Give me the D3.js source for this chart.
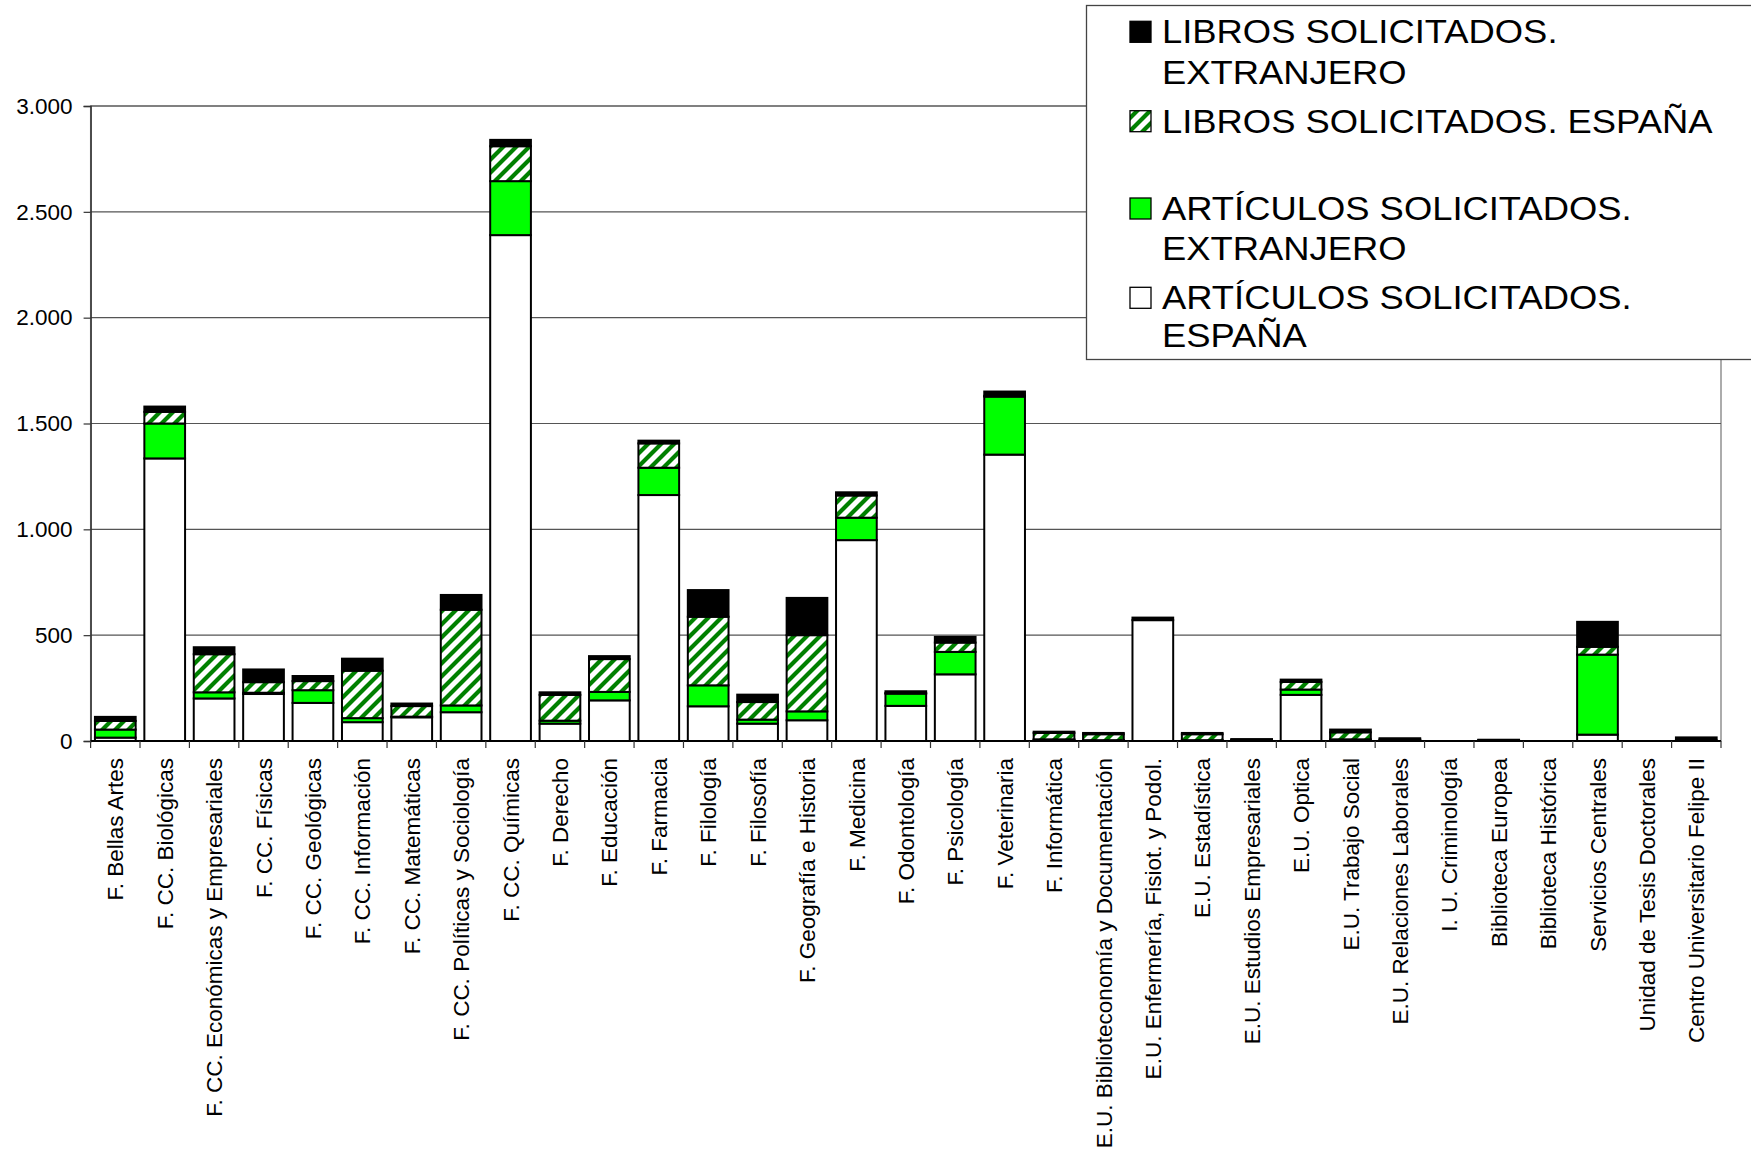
<!DOCTYPE html>
<html>
<head>
<meta charset="utf-8">
<script src="https://cdn.jsdelivr.net/npm/d3@7"></script>
<style>
  html, body { margin: 0; padding: 0; background: #fff; }
  svg { display: block; font-family: "Liberation Sans", Arial, sans-serif; }
</style>
</head>
<body>
<svg id="chart" width="1751" height="1155"></svg>
<script>
// ---------- DATA ----------
const categories = [
  "F. Bellas Artes", "F. CC. Biológicas", "F. CC. Económicas y Empresariales", "F. CC. Físicas",
  "F. CC. Geológicas", "F. CC. Información", "F. CC. Matemáticas", "F. CC. Políticas y Sociología",
  "F. CC. Químicas", "F. Derecho", "F. Educación", "F. Farmacia", "F. Filología", "F. Filosofía",
  "F. Geografía e Historia", "F. Medicina", "F. Odontología", "F. Psicología", "F. Veterinaria",
  "F. Informática", "E.U. Biblioteconomía y Documentación", "E.U. Enfermería, Fisiot. y Podol.",
  "E.U. Estadística", "E.U. Estudios Empresariales", "E.U. Optica", "E.U. Trabajo Social",
  "E.U. Relaciones Laborales", "I. U. Criminología", "Biblioteca Europea", "Biblioteca Histórica",
  "Servicios Centrales", "Unidad de Tesis Doctorales", "Centro Universitario Felipe II"
];
// ARTÍCULOS SOLICITADOS. ESPAÑA
const articulosEspana = [16, 1335, 201, 222, 180, 89, 112, 136, 2390, 82, 192, 1162, 164, 82, 98, 949, 166, 315, 1353, 5, 2, 571, 2, 4, 218, 5, 3, 0, 2, 0, 30, 0, 0];
// ARTÍCULOS SOLICITADOS. EXTRANJERO
const articulosExtranjero = [38, 165, 29, 6, 60, 19, 3, 32, 255, 14, 40, 129, 99, 19, 42, 106, 58, 106, 274, 3, 2, 0, 2, 0, 25, 3, 0, 0, 0, 0, 378, 0, 0];
// LIBROS SOLICITADOS. ESPAÑA
const librosEspana = [41, 55, 180, 50, 43, 224, 50, 452, 165, 122, 155, 115, 324, 83, 360, 105, 2, 44, 4, 30, 28, 0, 28, 2, 36, 33, 4, 0, 2, 0, 37, 0, 3];
// LIBROS SOLICITADOS. EXTRANJERO
const librosExtranjero = [19, 25, 33, 60, 24, 57, 12, 70, 30, 12, 14, 13, 126, 35, 176, 15, 9, 27, 20, 6, 6, 12, 6, 3, 11, 13, 6, 0, 2, 0, 118, 0, 14];

const seriesNames = ["ARTÍCULOS SOLICITADOS. ESPAÑA", "ARTÍCULOS SOLICITADOS. EXTRANJERO", "LIBROS SOLICITADOS. ESPAÑA", "LIBROS SOLICITADOS. EXTRANJERO"];
const yTicks = [0, 500, 1000, 1500, 2000, 2500, 3000];
const legendLines = [
  ["LIBROS SOLICITADOS.", "EXTRANJERO"],
  ["LIBROS SOLICITADOS. ESPAÑA"],
  ["ARTÍCULOS SOLICITADOS.", "EXTRANJERO"],
  ["ARTÍCULOS SOLICITADOS.", "ESPAÑA"]
];

// ---------- BUILD ----------
const svg = d3.select("#chart");
const L = 90.6, R = 1721, T = 106, B = 741;

const defs = svg.append("defs");
const pat = defs.append("pattern").attr("id", "hatch").attr("patternUnits", "userSpaceOnUse")
  .attr("width", 13).attr("height", 13);
pat.append("rect").attr("width", 13).attr("height", 13).attr("fill", "#fff");
pat.append("path").attr("d", "M-3.25,3.25 L3.25,-3.25 M0,13 L13,0 M9.75,16.25 L16.25,9.75")
  .attr("stroke", "#008000").attr("stroke-width", 4.2);

const fills = ["#ffffff", "#00ff00", "url(#hatch)", "#000000"];

const table = categories.map((c, i) => ({
  cat: c,
  [seriesNames[0]]: articulosEspana[i],
  [seriesNames[1]]: articulosExtranjero[i],
  [seriesNames[2]]: librosEspana[i],
  [seriesNames[3]]: librosExtranjero[i]
}));
const stacked = d3.stack().keys(seriesNames)(table);

const x = d3.scaleBand().domain(categories).range([L, R]).paddingInner(0.176).paddingOuter(0.088);
const y = d3.scaleLinear().domain([0, 3000]).range([B, T]);

// plot area border
svg.append("rect").attr("x", L).attr("y", T).attr("width", R - L).attr("height", B - T)
  .attr("fill", "none").attr("stroke", "#808080").attr("stroke-width", 1.3);

// gridlines
svg.append("g").selectAll("line").data(yTicks.filter(d => d > 0)).join("line")
  .attr("x1", L).attr("x2", R).attr("y1", d => y(d)).attr("y2", d => y(d))
  .attr("stroke", "#555").attr("stroke-width", 1.2);

// bars
const segs = svg.append("g");
stacked.forEach((s, si) => {
  segs.append("g").selectAll("rect")
    .data(s.filter(d => d[1] - d[0] > 0))
    .join("rect")
    .attr("x", d => x(d.data.cat))
    .attr("width", x.bandwidth())
    .attr("y", d => y(d[1]))
    .attr("height", d => y(d[0]) - y(d[1]))
    .attr("fill", fills[si])
    .attr("stroke", "#000")
    .attr("stroke-width", 2);
});

// y axis
const fmt = d3.formatLocale({ decimal: ",", thousands: ".", grouping: [3], currency: ["", ""] }).format(",d");
const yAxis = d3.axisLeft(y).tickValues(yTicks).tickFormat(fmt).tickSize(7).tickPadding(11);
const ya = svg.append("g").attr("transform", `translate(${L},0)`).call(yAxis);
ya.select(".domain").attr("stroke", "#333").attr("stroke-width", 1.5);
ya.selectAll(".tick line").attr("stroke", "#333").attr("stroke-width", 1.2);
ya.selectAll("text").attr("font-size", 22.5).attr("fill", "#000")
  .attr("font-family", "'Liberation Sans', Arial, sans-serif");

// x axis
const xa = svg.append("g");
xa.append("line").attr("x1", L).attr("x2", R).attr("y1", B).attr("y2", B)
  .attr("stroke", "#000").attr("stroke-width", 2);
const step = x.step();
xa.selectAll("line.tk").data(d3.range(categories.length + 1)).join("line").attr("class", "tk")
  .attr("x1", i => L + i * step).attr("x2", i => L + i * step)
  .attr("y1", B).attr("y2", B + 7).attr("stroke", "#333").attr("stroke-width", 1.2);
xa.selectAll("text").data(categories).join("text")
  .attr("transform", d => `translate(${x(d) + x.bandwidth() / 2},758) rotate(-90)`)
  .attr("text-anchor", "end").attr("dy", "0.36em")
  .attr("font-size", 22.5).attr("fill", "#000")
  .text(d => d);

// legend
const lg = svg.append("g");
lg.append("rect").attr("x", 1086.5).attr("y", 5.5).attr("width", 700).attr("height", 354)
  .attr("fill", "#fff").attr("stroke", "#444").attr("stroke-width", 1.3);
const legendFills = [fills[3], fills[2], fills[1], fills[0]];
const legendBase = [[43.3, 83.5], [132.7], [220, 260], [309.3, 347]];
legendLines.forEach((lines, i) => {
  const g = lg.append("g");
  g.append("rect").attr("x", 1130).attr("y", legendBase[i][0] - 22).attr("width", 21).attr("height", 21)
    .attr("fill", legendFills[i]).attr("stroke", "#000").attr("stroke-width", 1.3);
  lines.forEach((t, j) => {
    g.append("text").attr("transform", `translate(1162,${legendBase[i][j]}) scale(1.07,1)`)
      .attr("font-size", 34).attr("fill", "#000").text(t);
  });
});
</script>
</body>
</html>
